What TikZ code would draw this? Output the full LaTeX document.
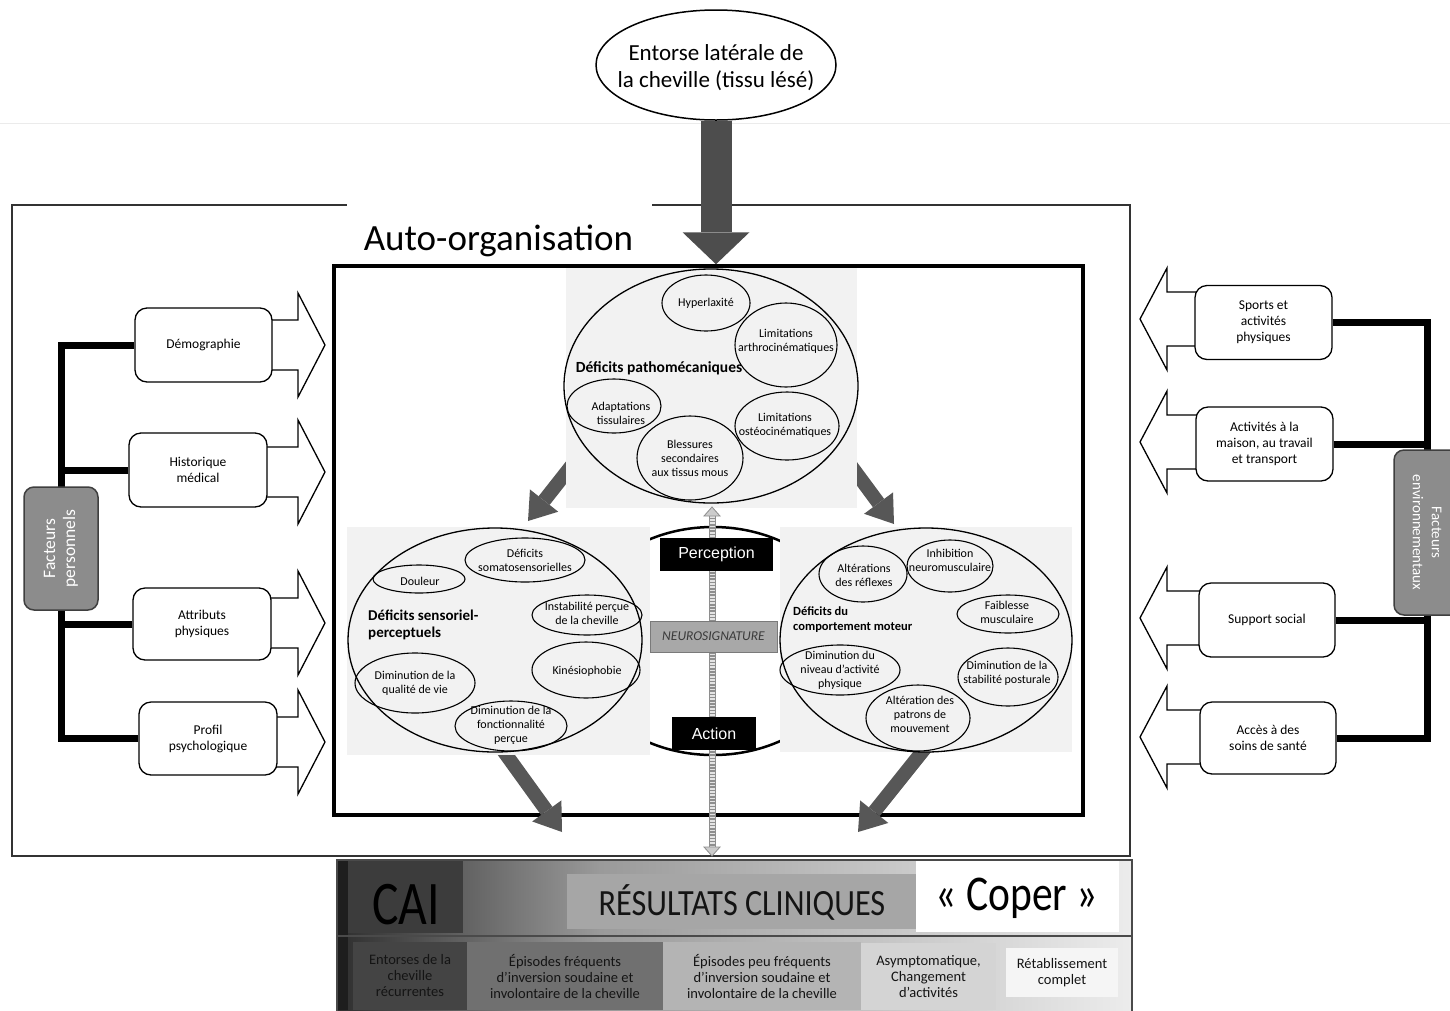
\documentclass[tikz,border=0pt]{standalone}
\usepackage{fontspec}
\setmainfont{Carlito}
\newfontfamily\arialfont{Liberation Sans}
\usepackage{graphicx}
\usetikzlibrary{arrows.meta,shapes.geometric,calc}

\definecolor{bigarrow}{HTML}{4D4D4D}
\definecolor{diagarrow}{HTML}{575757}
\definecolor{panelbg}{HTML}{F2F2F2}
\definecolor{factorfill}{HTML}{8C8C8C}
\definecolor{factorline}{HTML}{3F3F3F}
\definecolor{neurofill}{HTML}{A8A8A8}
\definecolor{neuroline}{HTML}{7A7A7A}
\definecolor{neurotext}{HTML}{3A3A3A}
\definecolor{stripedark}{HTML}{8E8E8E}
\definecolor{stripelight}{HTML}{E4E4E4}
\definecolor{stripehead}{HTML}{CCCCCC}
\definecolor{faintline}{HTML}{EBEBEB}
\definecolor{outerline}{HTML}{333333}
\definecolor{caifill}{HTML}{3C3C3C}
\definecolor{resfill}{HTML}{A6A6A6}
\definecolor{outA}{HTML}{444444}
\definecolor{outB}{HTML}{707070}
\definecolor{outC}{HTML}{B4B4B4}
\definecolor{outD}{HTML}{D4D4D4}
\definecolor{outE}{HTML}{F5F5F5}
\definecolor{bandL}{HTML}{2E2E2E}
\definecolor{bandM}{HTML}{9A9A9A}
\definecolor{bandR}{HTML}{ECECEC}
\definecolor{bandline}{HTML}{4A4A4A}
\definecolor{bandedge}{HTML}{1E1E1E}
\definecolor{darktext}{HTML}{141414}

\newcommand{\fsz}[2]{\fontsize{#1}{#2}\selectfont}

\tikzset{
  bub/.style={draw, ellipse, line width=1.1pt, inner sep=0pt},
  bubtxt/.style={align=center, inner sep=0pt, font=\fsz{12}{14}},
  bigbub/.style={draw, ellipse, line width=1.3pt, inner sep=0pt},
  panel/.style={fill=panelbg, inner sep=0pt},
  sidebox/.style={draw, fill=white, rounded corners=12pt, line width=1.3pt,
    minimum width=137pt, minimum height=74pt, inner sep=0pt, align=center,
    font=\fsz{13.5}{16}},
  hollow/.style={draw, fill=white, line width=1.3pt, line join=miter},
  link/.style={line width=7pt},
  factor/.style={draw=factorline, fill=factorfill, rounded corners=10pt,
    line width=1.5pt, inner sep=0pt},
  factortxt/.style={text=white, align=center, inner sep=0pt},
  diag/.style={line width=14pt, diagarrow,
    -{Triangle[width=36pt,length=26pt,line width=0pt]}},
  darkbox/.style={fill=black, text=white, inner sep=0pt,
    font=\arialfont\fsz{16}{18}},
  outbox/.style={inner sep=0pt, align=center, font=\fsz{14.5}{16},
    text=darktext}
}

\begin{document}
\begin{tikzpicture}[x=1pt,y=-1pt]
\useasboundingbox[fill=white] (0,0) rectangle (1450,1010);

\draw[faintline, line width=1pt] (0,123) -- (1450,123);

% self-organisation frames
\node[draw=outerline, line width=1.3pt, minimum width=1118pt,
  minimum height=651pt, inner sep=0pt] (outer) at (571,530.5) {};
\fill[white] (347,203) rectangle (652,264);
\node[anchor=base, font=\fsz{37}{40}, inner sep=0pt] (autoorg)
  at (498.5,250) {Auto-organisation};
\node[draw, line width=3.5pt, minimum width=749pt, minimum height=549pt,
  inner sep=0pt] (selforg) at (708.5,540.5) {};

% initial injury
\node[draw, ellipse, line width=1.5pt, fill=white, minimum width=240pt,
  minimum height=110pt, inner sep=0pt] (entorse) at (716,65) {};
\node[align=center, font=\fsz{23}{27}, inner sep=0pt] at (716,68)
  {Entorse latérale de\\la cheville (tissu lésé)};
\draw[line width=31pt, bigarrow,
  -{Triangle[width=67pt,length=32pt,line width=0pt]}]
  (entorse.south) -- (entorse.south |- selforg.north);

% neurosignature backdrop
\node[draw, ellipse, line width=2.5pt, fill=white, minimum width=280pt,
  minimum height=228pt, inner sep=0pt] (neuro) at (713,641) {};

% arrows between the three deficit groups and the outcomes
\coordinate (d1s) at (580,455); \coordinate (d1e) at (528,521);
\coordinate (d2s) at (843,455); \coordinate (d2e) at (894,524);
\coordinate (d3s) at (497,742); \coordinate (d3e) at (562,832);
\coordinate (d4s) at (930,742); \coordinate (d4e) at (858,832);
\draw[diag] (d1s) -- (d1e);
\draw[diag] (d2s) -- (d2e);
\draw[diag] (d3s) -- (d3e);
\draw[diag] (d4s) -- (d4e);

% panels
\node[panel, minimum width=291pt, minimum height=240pt] (patho) at (711.5,388) {};
\node[panel, minimum width=303pt, minimum height=228pt] (senso) at (498.5,641) {};
\node[panel, minimum width=292pt, minimum height=225pt] (motor) at (926,639.5) {};

% pathomechanical deficits
\node[bigbub, minimum width=294pt, minimum height=234pt] (pathoE) at (711,386) {};
\node[bub, minimum width=88pt, minimum height=56pt] (p1) at (706,303) {};
\node[bubtxt] at (p1) {Hyperlaxité};
\node[bub, minimum width=102pt, minimum height=84pt] (p2) at (786,345) {};
\node[bubtxt] at (786,341) {Limitations\\arthrocinématiques};
\node[bub, minimum width=94pt, minimum height=54pt] (p3) at (614,406) {};
\node[bubtxt] at (621,413) {Adaptations\\tissulaires};
\node[bub, minimum width=104pt, minimum height=68pt] (p4) at (787,426) {};
\node[bubtxt] at (785,425) {Limitations\\ostéocinématiques};
\node[bub, minimum width=106pt, minimum height=84pt] (p5) at (690,458) {};
\node[bubtxt] at (690,458) {Blessures\\secondaires\\aux tissus mous};
\node[font=\bfseries\fsz{15.5}{18}, inner sep=0pt] at (659,368)
  {Déficits pathomécaniques};

% sensory-perceptual deficits
\node[bigbub, minimum width=294pt, minimum height=224pt] (sensoE) at (495,640) {};
\node[bub, minimum width=92pt, minimum height=28pt] (s1) at (419,579) {};
\node[bubtxt] at (420,581) {Douleur};
\node[bub, minimum width=120pt, minimum height=44pt] (s2) at (525,560) {};
\node[bubtxt] at (525,560) {Déficits\\somatosensorielles};
\node[bub, minimum width=110pt, minimum height=40pt] (s3) at (587,615) {};
\node[bubtxt] at (587,613) {Instabilité perçue\\de la cheville};
\node[bub, minimum width=108pt, minimum height=56pt] (s4) at (586,670) {};
\node[bubtxt] at (587,671) {Kinésiophobie};
\node[bub, minimum width=120pt, minimum height=60pt] (s5) at (415,683) {};
\node[bubtxt] at (415,683) {Diminution de la\\qualité de vie};
\node[bub, minimum width=112pt, minimum height=50pt] (s6) at (511,726) {};
\node[bubtxt] at (511,725) {Diminution de la\\fonctionnalité\\perçue};
\node[font=\bfseries\fsz{15}{17}, align=left, anchor=west, inner sep=0pt]
  at (368,625) {Déficits sensoriel-\\perceptuels};

% motor behaviour deficits
\node[bigbub, minimum width=292pt, minimum height=224pt] (motorE) at (926,640) {};
\node[bub, minimum width=88pt, minimum height=56pt] (m1) at (863,574) {};
\node[bubtxt] at (864,575) {Altérations\\des réflexes};
\node[bub, minimum width=86pt, minimum height=52pt] (m2) at (950,566) {};
\node[bubtxt] at (950,560) {Inhibition\\neuromusculaire};
\node[bub, minimum width=102pt, minimum height=38pt] (m3) at (1008,614) {};
\node[bubtxt] at (1007,612) {Faiblesse\\musculaire};
\node[bub, minimum width=120pt, minimum height=50pt] (m4) at (840,670) {};
\node[bubtxt] at (840,670) {Diminution du\\niveau d’activité\\physique};
\node[bub, minimum width=100pt, minimum height=58pt] (m5) at (1008,677) {};
\node[bubtxt] at (1007,673) {Diminution de la\\stabilité posturale};
\node[bub, minimum width=104pt, minimum height=66pt] (m6) at (918,718) {};
\node[bubtxt] at (920,714) {Altération des\\patrons de\\mouvement};
\node[font=\bfseries\fsz{12.5}{15}, align=left, anchor=west, inner sep=0pt]
  at (793,619.5) {Déficits du\\comportement moteur};

% perception - action axis
\coordinate (ntop) at (712,507);
\coordinate (nbot) at (712,856);
\draw[line width=7pt, stripedark] ($(ntop)+(0,9)$) -- ($(nbot)+(0,-9)$);
\draw[line width=5pt, stripelight, dash pattern=on 1.6pt off 1.6pt]
  ($(ntop)+(0,9)$) -- ($(nbot)+(0,-9)$);
\filldraw[fill=stripehead, draw=stripedark, line width=0.8pt]
  (ntop) -- ++(-8,9) -- ++(16,0) -- cycle;
\filldraw[fill=stripehead, draw=stripedark, line width=0.8pt]
  (nbot) -- ++(-8,-9) -- ++(16,0) -- cycle;
\node[darkbox, minimum width=113pt, minimum height=33pt] (perc)
  at (716.5,554.5) {Perception};
\node[draw=neuroline, fill=neurofill, line width=1pt, minimum width=127pt,
  minimum height=31pt, inner sep=0pt, font=\itshape\fsz{13.5}{15},
  text=neurotext] (neurosig) at (713.5,636.5) {NEUROSIGNATURE};
\node[darkbox, minimum width=84pt, minimum height=33pt] (act)
  at (714,733.5) {Action};

% personal factors
\foreach \c in {345,472,623,742} {
  \draw[hollow] (250,{\c-25}) -- (298,{\c-25}) -- (298,{\c-52}) -- (325,\c)
    -- (298,{\c+52}) -- (298,{\c+25}) -- (250,{\c+25}) -- cycle;
}
\node[sidebox] (demo) at (203.5,345) {Démographie};
\node[sidebox, minimum width=138pt] (hist) at (198,470) {Historique\\médical};
\node[sidebox, minimum width=138pt, minimum height=72pt] (attr) at (202,624)
  {Attributs\\physiques};
\node[sidebox, minimum width=138pt, minimum height=73pt] (prof) at (208,738.5)
  {Profil\\psychologique};
\draw[link] (demo.west) -| (61,487);
\draw[link] (hist.west) -| (61,487);
\draw[link] (attr.west) -| (61,610);
\draw[link] (prof.west) -| (61,610);
\node[factor, minimum width=74pt, minimum height=123pt] (fp) at (61,548.5) {};
\node[factortxt, rotate=90, font=\fsz{17.5}{20}] at (fp) {Facteurs\\personnels};

% environmental factors
\foreach \c in {319,442,618,737} {
  \draw[hollow] (1220,{\c-27}) -- (1167,{\c-27}) -- (1167,{\c-51}) -- (1140,\c)
    -- (1167,{\c+51}) -- (1167,{\c+27}) -- (1220,{\c+27}) -- cycle;
}
\node[sidebox] (sport) at (1263.5,322.5) {Sports et\\activités\\physiques};
\node[sidebox] (home) at (1264.5,444) {Activités à la\\maison, au travail\\et transport};
\node[sidebox, minimum width=136pt] (social) at (1267,620) {Support social};
\node[sidebox, minimum width=136pt, minimum height=72pt] (care) at (1268,738)
  {Accès à des\\soins de santé};
\draw[link] (sport.east) -| (1427,450);
\draw[link] (home.east) -| (1427,450);
\draw[link] (social.east) -| (1427,615);
\draw[link] (care.east) -| (1427,615);
\node[factor, minimum width=66pt, minimum height=165pt] (fe) at (1427,532.5) {};
\node[factortxt, rotate=-90, font=\fsz{15}{19}] at (fe) {Facteurs\\environnementaux};

% clinical outcomes band
\shade[left color=bandL, right color=bandM] (337,860) rectangle (600,1010);
\shade[left color=bandM, right color=bandR] (600,860) rectangle (1132,1010);
\fill[bandedge] (337,860) rectangle (348,1010);
\node[fill=caifill, minimum width=115pt, minimum height=73pt, inner sep=0pt]
  (cai) at (405.5,896.5) {};
\node[anchor=base, inner sep=0pt] at (406,924)
  {\scalebox{0.8}[1]{\fsz{62}{62}CAI}};
\node[fill=resfill, minimum width=350pt, minimum height=55pt, inner sep=0pt]
  (res) at (742,901.5) {};
\node[anchor=base, inner sep=0pt, text=darktext] at (742,915)
  {\scalebox{0.87}[1]{\fsz{37}{40}RÉSULTATS CLINIQUES}};
\node[fill=white, minimum width=203pt, minimum height=72pt, inner sep=0pt]
  (coper) at (1017.5,896) {};
\node[anchor=base, inner sep=0pt] at (1017,910)
  {\scalebox{0.83}[1]{\fsz{50}{52}« Coper »}};
\draw[bandline, line width=2pt] (337,936) -- (1132,936);

\node[outbox, fill=outA, minimum width=114pt, minimum height=68pt] (o1)
  at (410,976) {Entorses de la\\cheville\\récurrentes};
\node[outbox, fill=outB, minimum width=196pt, minimum height=68pt] (o2)
  at (565,976) {Épisodes fréquents\\d’inversion soudaine et\\involontaire de la cheville};
\node[outbox, fill=outC, minimum width=198pt, minimum height=68pt] (o3)
  at (762,976) {Épisodes peu fréquents\\d’inversion soudaine et\\involontaire de la cheville};
\node[outbox, fill=outD, minimum width=135pt, minimum height=67pt] (o4)
  at (928.5,976.5) {Asymptomatique,\\Changement\\d’activités};
\node[outbox, fill=outE, minimum width=112pt, minimum height=49pt] (o5)
  at (1062,972.5) {Rétablissement\\complet};
\draw[bandline, line width=2pt] (337,860) rectangle (1132,1012);
\end{tikzpicture}
\end{document}
